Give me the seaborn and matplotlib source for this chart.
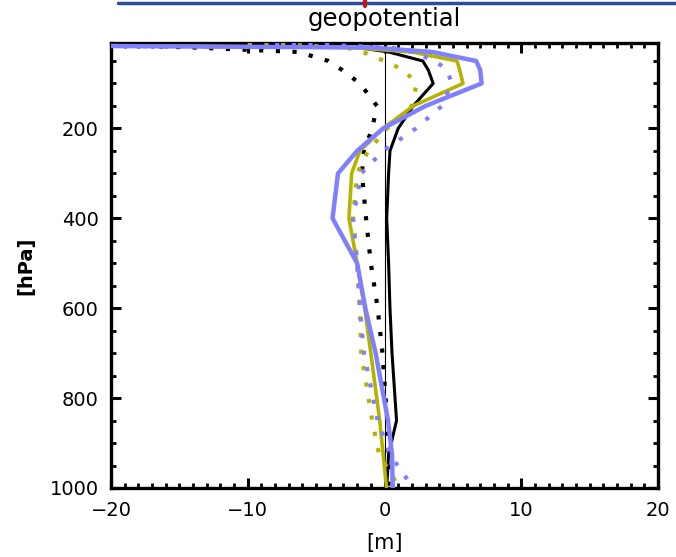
import numpy as np
import pandas as pd
import matplotlib
matplotlib.use("Agg")
import matplotlib.pyplot as plt
from matplotlib.lines import Line2D
from matplotlib.ticker import MultipleLocator
import seaborn as sns

# Pressure levels (hPa)
levels = [10, 20, 30, 50, 70, 100, 150, 200, 250, 300, 400, 500, 600, 700, 850, 925, 1000]

# Geopotential height differences (m) for each experiment
black_solid = [-30, -2.0, 0.3, 2.8, 3.2, 3.56, 2.1, 1.0, 0.4, 0.3, 0.16, 0.3, 0.4, 0.55, 0.88, 0.3, 0.16]
black_dotted = [-25, -14, -6.3, -4.1, -3.1, -1.8, -0.55, -0.9, -1.5, -1.65, -1.35, -1.0, -0.5, -0.15, 0.2, 0.3, 0.3]
yellow_solid = [-45, -2.5, 2.0, 5.3, 5.5, 5.74, 2.1, -0.1, -1.8, -2.4, -2.6, -2.0, -1.45, -1.0, -0.35, -0.1, 0.15]
yellow_dotted = [-10, -2.8, -1.6, 0.0, 1.4, 2.35, 2.0, 0.2, -1.2, -2.0, -2.3, -2.0, -1.8, -1.7, -0.9, -0.4, 1.1]
blue_solid = [-60, -1.0, 3.5, 6.7, 7.0, 7.1, 3.0, -0.1, -2.0, -3.4, -3.8, -2.0, -1.4, -0.65, 0.26, 0.55, 0.6]
blue_dotted = [-8, 0.5, 2.0, 3.7, 4.6, 4.9, 4.2, 2.3, -0.1, -1.7, -2.3, -2.0, -1.8, -1.5, -0.5, 0.4, 2.1]

series = [
    ("black dotted", black_dotted, "#000000", (0, (1, 3)), 3.0),
    ("black solid", black_solid, "#000000", "-", 2.2),
    ("yellow dotted", yellow_dotted, "#b4b400", (0, (1, 3)), 3.0),
    ("yellow solid", yellow_solid, "#b4b400", "-", 2.6),
    ("blue dotted", blue_dotted, "#7f7fff", (0, (1, 3)), 3.0),
    ("blue solid", blue_solid, "#7f7fff", "-", 3.2),
]

sns.set_style("ticks")
plt.rcParams["font.family"] = ["DejaVu Sans"]
plt.rcParams["text.color"] = "black"
plt.rcParams["axes.labelcolor"] = "black"
plt.rcParams["xtick.color"] = "black"
plt.rcParams["ytick.color"] = "black"

fig = plt.figure(figsize=(6.76, 5.57), dpi=100)
ax = fig.add_axes([111 / 676, 1 - 488 / 557, (658 - 111) / 676, (488 - 43) / 557])

# Zero reference line
ax.axvline(0, color="black", lw=0.8, zorder=1)

for name, vals, color, ls, lw in series:
    df = pd.DataFrame({"dz": vals, "p": levels})
    sns.lineplot(data=df, x="dz", y="p", sort=False, orient="y", estimator=None,
                 color=color, lw=lw, ax=ax, zorder=3)
    line = ax.lines[-1]
    line.set_linestyle(ls)
    line.set_dash_capstyle("butt")

ax.set_xlim(-20, 20)
ax.set_ylim(1000, 10)
ax.set_xticks([-20, -10, 0, 10, 20])
ax.set_xticklabels(["\u221220", "\u221210", "0", "10", "20"])
ax.set_yticks([200, 400, 600, 800, 1000])
ax.xaxis.set_minor_locator(MultipleLocator(1))
ax.yaxis.set_minor_locator(MultipleLocator(50))

for s in ax.spines.values():
    s.set_linewidth(2.4)
    s.set_color("black")
ax.tick_params(which="major", direction="in", length=7, width=2.2, labelsize=14,
               top=True, right=True, pad=9, labelcolor="black")
ax.tick_params(which="minor", direction="in", length=3.5, width=2.0, top=True, right=True)

ax.set_xlabel("[m]", fontsize=15, labelpad=10, color="black")
ax.set_ylabel("[hPa]", fontsize=14, fontweight="bold", labelpad=10, color="black")
ax.set_title("geopotential", fontsize=17.5, pad=12, color="black")

# Slide border decoration at the top
fig.add_artist(Line2D([118 / 676, 1.0], [1 - 3 / 557, 1 - 3 / 557], color="#2e4a9a", lw=2.5))
fig.add_artist(Line2D([365 / 676, 365 / 676], [1.0, 1 - 6 / 557], color="#d01010", lw=3))

fig.savefig("out.png", dpi=100)
